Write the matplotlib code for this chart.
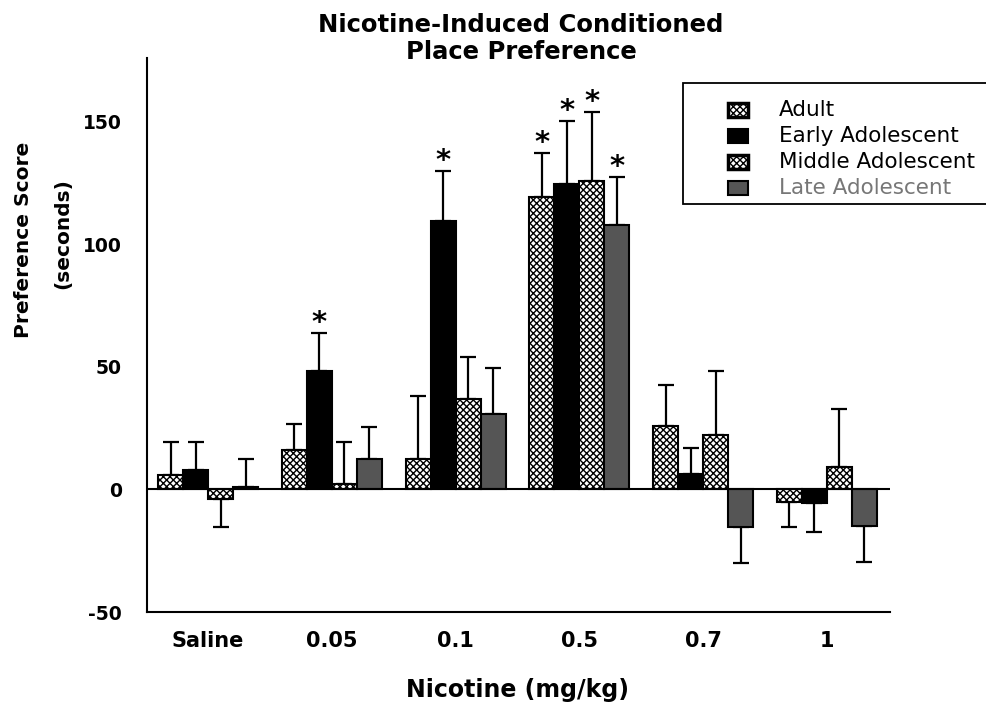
import matplotlib
matplotlib.use("Agg")
import matplotlib.pyplot as plt
from matplotlib.patches import Rectangle
import numpy as np

# ---------------- data ----------------
doses = ["Saline", "0.05", "0.1", "0.5", "0.7", "1"]
series = ["Adult", "Early Adolescent", "Middle Adolescent", "Late Adolescent"]

adult = [5.8, 16.0, 12.3, 119.1, 25.9, -5.3]
adult_err = [13.6, 10.7, 25.8, 18.2, 16.7, 9.9]
early = [8.1, 48.2, 109.5, 124.5, 6.1, -5.7]
early_err = [11.3, 15.8, 20.3, 25.7, 10.7, 11.8]
middle = [-4.0, 2.4, 36.7, 126.0, 22.1, 9.2]
middle_err = [11.2, 16.8, 17.3, 27.9, 26.1, 23.5]
late = [0.8, 12.3, 30.6, 107.7, -15.2, -14.8]
late_err = [11.5, 13.0, 19.0, 19.7, 15.0, 14.9]

adult_sig = [False, False, False, True, False, False]
early_sig = [False, True, True, True, False, False]
middle_sig = [False, False, False, True, False, False]
late_sig = [False, False, False, True, False, False]

yticks = [-50, 0, 50, 100, 150]

# ---------------- figure ----------------
W, H = 986, 706
fig = plt.figure(figsize=(W / 100, H / 100), dpi=100)
plt.rcParams['hatch.linewidth'] = 1.0

def fx(x):
    return x / W

def fy(y):
    return 1 - y / H

ax = fig.add_axes([fx(147), fy(612), fx(890) - fx(147), fy(58) - fy(612)])

vals = [adult, early, middle, late]
errs = [adult_err, early_err, middle_err, late_err]
sigs = [adult_sig, early_sig, middle_sig, late_sig]
faces = ["white", "black", "white", "#555555"]
hatches = ["xxxxx", None, "xxxxx", None]

x = np.arange(len(doses))
w = 0.202
offsets = [-1.5, -0.5, 0.5, 1.5]

for i in range(4):
    xs = x + offsets[i] * w
    v = np.array(vals[i])
    e = np.array(errs[i])
    ax.bar(xs, v, width=w, color=faces[i], edgecolor="black", linewidth=1.5,
           hatch=hatches[i], zorder=2)
    lower = np.where(v < 0, e, 0)
    upper = np.where(v >= 0, e, 0)
    ax.errorbar(xs, v, yerr=[lower, upper], fmt="none", ecolor="black",
                elinewidth=1.6, capsize=5.5, capthick=1.6, zorder=1)
    for xi, vi, ei, si in zip(xs, v, e, sigs[i]):
        if si:
            ax.text(xi, vi + ei + 0.8, "*", ha="center", va="baseline",
                    fontsize=21, fontweight="bold")

ax.axhline(0, color="black", linewidth=1.5, zorder=3)

ax.set_xlim(-0.493, 5.51)
ax.set_ylim(-50, 176)
ax.set_yticks(yticks)
ax.set_yticklabels([str(t) for t in yticks], fontsize=13.5, fontweight="bold")
ax.set_xticks(x)
ax.set_xticklabels(doses, fontsize=15, fontweight="bold")
ax.tick_params(axis="both", length=0)
ax.tick_params(axis="y", pad=18)
ax.tick_params(axis="x", pad=14)
for s in ["top", "right"]:
    ax.spines[s].set_visible(False)
for s in ["left", "bottom"]:
    ax.spines[s].set_linewidth(1.5)

# titles / labels
fig.text(fx(521), fy(32), "Nicotine-Induced Conditioned", ha="center",
         va="baseline", fontsize=17.5, fontweight="bold")
fig.text(fx(521), fy(59), "Place Preference", ha="center",
         va="baseline", fontsize=17.5, fontweight="bold")
fig.text(fx(518), fy(697), "Nicotine (mg/kg)", ha="center", va="baseline",
         fontsize=17, fontweight="bold")
fig.text(fx(24), fy(240), "Preference Score", rotation=90, ha="center",
         va="center", fontsize=14.5, fontweight="bold")
fig.text(fx(63), fy(234), "(seconds)", rotation=90, ha="center",
         va="center", fontsize=14.5, fontweight="bold")

# legend (box extends beyond right edge like the reference)
box = Rectangle((fx(683), fy(204)), fx(1100) - fx(683), fy(83) - fy(204),
                transform=fig.transFigure, facecolor="white",
                edgecolor="black", linewidth=1.3, zorder=5)
fig.add_artist(box)
row_y = [110, 136, 162, 188]
text_colors = ["black", "black", "black", "#777777"]
for i in range(4):
    hx, hy = 728, row_y[i]
    fw = 2.5 if hatches[i] else 1.5
    r = Rectangle((fx(hx), fy(hy + 7)), fx(20), 14 / H,
                  transform=fig.transFigure, facecolor=faces[i],
                  edgecolor="black", linewidth=fw, hatch=hatches[i], zorder=6)
    fig.add_artist(r)
    fig.text(fx(779), fy(hy), series[i], ha="left", va="center",
             fontsize=15.5, color=text_colors[i], zorder=7)

fig.savefig("out.png", dpi=100)
